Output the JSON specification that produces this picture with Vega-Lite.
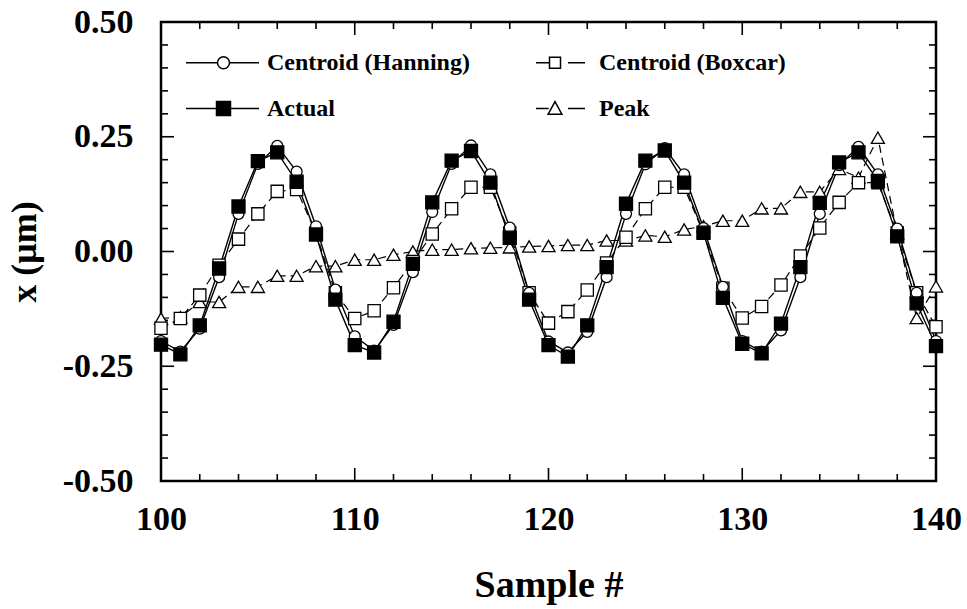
{
  "$schema": "https://vega.github.io/schema/vega-lite/v6.json",
  "width": 775,
  "height": 459,
  "autosize": {"type": "none"},
  "padding": {"left": 161, "top": 22, "right": 31, "bottom": 128},
  "background": "white",
  "config": {
    "view": {"stroke": "black", "strokeWidth": 2.5},
    "axis": {
      "domain": false, "ticks": false, "tickSize": 0, "grid": false,
      "labelFont": "Liberation Serif", "labelFontWeight": "bold", "labelFontSize": 34, "labelColor": "black",
      "titleFont": "Liberation Serif", "titleFontWeight": "bold", "titleColor": "black",
      "labelFlush": false, "labelOverlap": false
    }
  },
  "datasets": {
    "series": [
      {"s": 100, "Centroid (Hanning)": -0.195, "Centroid (Boxcar)": -0.167, "Actual": -0.203, "Peak": -0.146},
      {"s": 101, "Centroid (Hanning)": -0.218, "Centroid (Boxcar)": -0.146, "Actual": -0.224, "Peak": -0.143},
      {"s": 102, "Centroid (Hanning)": -0.168, "Centroid (Boxcar)": -0.095, "Actual": -0.161, "Peak": -0.110},
      {"s": 103, "Centroid (Hanning)": -0.056, "Centroid (Boxcar)": -0.030, "Actual": -0.037, "Peak": -0.110},
      {"s": 104, "Centroid (Hanning)": 0.082, "Centroid (Boxcar)": 0.027, "Actual": 0.098, "Peak": -0.077},
      {"s": 105, "Centroid (Hanning)": 0.191, "Centroid (Boxcar)": 0.082, "Actual": 0.197, "Peak": -0.077},
      {"s": 106, "Centroid (Hanning)": 0.230, "Centroid (Boxcar)": 0.131, "Actual": 0.216, "Peak": -0.053},
      {"s": 107, "Centroid (Hanning)": 0.174, "Centroid (Boxcar)": 0.135, "Actual": 0.152, "Peak": -0.053},
      {"s": 108, "Centroid (Hanning)": 0.055, "Centroid (Boxcar)": 0.040, "Actual": 0.037, "Peak": -0.032},
      {"s": 109, "Centroid (Hanning)": -0.083, "Centroid (Boxcar)": -0.090, "Actual": -0.105, "Peak": -0.032},
      {"s": 110, "Centroid (Hanning)": -0.185, "Centroid (Boxcar)": -0.146, "Actual": -0.204, "Peak": -0.018},
      {"s": 111, "Centroid (Hanning)": -0.216, "Centroid (Boxcar)": -0.129, "Actual": -0.220, "Peak": -0.018},
      {"s": 112, "Centroid (Hanning)": -0.160, "Centroid (Boxcar)": -0.079, "Actual": -0.153, "Peak": -0.007},
      {"s": 113, "Centroid (Hanning)": -0.045, "Centroid (Boxcar)": -0.022, "Actual": -0.027, "Peak": 0.000},
      {"s": 114, "Centroid (Hanning)": 0.086, "Centroid (Boxcar)": 0.038, "Actual": 0.107, "Peak": 0.004},
      {"s": 115, "Centroid (Hanning)": 0.191, "Centroid (Boxcar)": 0.093, "Actual": 0.198, "Peak": 0.004},
      {"s": 116, "Centroid (Hanning)": 0.231, "Centroid (Boxcar)": 0.140, "Actual": 0.219, "Peak": 0.007},
      {"s": 117, "Centroid (Hanning)": 0.168, "Centroid (Boxcar)": 0.140, "Actual": 0.150, "Peak": 0.008},
      {"s": 118, "Centroid (Hanning)": 0.052, "Centroid (Boxcar)": 0.040, "Actual": 0.030, "Peak": 0.009},
      {"s": 119, "Centroid (Hanning)": -0.090, "Centroid (Boxcar)": -0.090, "Actual": -0.105, "Peak": 0.011},
      {"s": 120, "Centroid (Hanning)": -0.196, "Centroid (Boxcar)": -0.156, "Actual": -0.204, "Peak": 0.012},
      {"s": 121, "Centroid (Hanning)": -0.220, "Centroid (Boxcar)": -0.131, "Actual": -0.229, "Peak": 0.014},
      {"s": 122, "Centroid (Hanning)": -0.175, "Centroid (Boxcar)": -0.084, "Actual": -0.161, "Peak": 0.014},
      {"s": 123, "Centroid (Hanning)": -0.056, "Centroid (Boxcar)": -0.025, "Actual": -0.034, "Peak": 0.024},
      {"s": 124, "Centroid (Hanning)": 0.082, "Centroid (Boxcar)": 0.031, "Actual": 0.104, "Peak": 0.024},
      {"s": 125, "Centroid (Hanning)": 0.190, "Centroid (Boxcar)": 0.093, "Actual": 0.198, "Peak": 0.035},
      {"s": 126, "Centroid (Hanning)": 0.225, "Centroid (Boxcar)": 0.140, "Actual": 0.220, "Peak": 0.032},
      {"s": 127, "Centroid (Hanning)": 0.168, "Centroid (Boxcar)": 0.140, "Actual": 0.150, "Peak": 0.048},
      {"s": 128, "Centroid (Hanning)": 0.051, "Centroid (Boxcar)": 0.040, "Actual": 0.041, "Peak": 0.055},
      {"s": 129, "Centroid (Hanning)": -0.077, "Centroid (Boxcar)": -0.080, "Actual": -0.101, "Peak": 0.067},
      {"s": 130, "Centroid (Hanning)": -0.195, "Centroid (Boxcar)": -0.145, "Actual": -0.201, "Peak": 0.067},
      {"s": 131, "Centroid (Hanning)": -0.218, "Centroid (Boxcar)": -0.120, "Actual": -0.222, "Peak": 0.094},
      {"s": 132, "Centroid (Hanning)": -0.172, "Centroid (Boxcar)": -0.073, "Actual": -0.157, "Peak": 0.094},
      {"s": 133, "Centroid (Hanning)": -0.056, "Centroid (Boxcar)": -0.010, "Actual": -0.034, "Peak": 0.130},
      {"s": 134, "Centroid (Hanning)": 0.082, "Centroid (Boxcar)": 0.051, "Actual": 0.106, "Peak": 0.130},
      {"s": 135, "Centroid (Hanning)": 0.188, "Centroid (Boxcar)": 0.107, "Actual": 0.194, "Peak": 0.180},
      {"s": 136, "Centroid (Hanning)": 0.228, "Centroid (Boxcar)": 0.150, "Actual": 0.216, "Peak": 0.161},
      {"s": 137, "Centroid (Hanning)": 0.168, "Centroid (Boxcar)": 0.150, "Actual": 0.154, "Peak": 0.248},
      {"s": 138, "Centroid (Hanning)": 0.050, "Centroid (Boxcar)": 0.040, "Actual": 0.033, "Peak": 0.040},
      {"s": 139, "Centroid (Hanning)": -0.090, "Centroid (Boxcar)": -0.090, "Actual": -0.113, "Peak": -0.145},
      {"s": 140, "Centroid (Hanning)": -0.195, "Centroid (Boxcar)": -0.164, "Actual": -0.206, "Peak": -0.076}
    ],
    "xticks": [
      {"t": 100, "e": -0.5, "k": "major"}, {"t": 100, "e": 0.5, "k": "major"},
      {"t": 102, "e": -0.5, "k": "minor"}, {"t": 102, "e": 0.5, "k": "minor"},
      {"t": 104, "e": -0.5, "k": "minor"}, {"t": 104, "e": 0.5, "k": "minor"},
      {"t": 106, "e": -0.5, "k": "minor"}, {"t": 106, "e": 0.5, "k": "minor"},
      {"t": 108, "e": -0.5, "k": "minor"}, {"t": 108, "e": 0.5, "k": "minor"},
      {"t": 110, "e": -0.5, "k": "major"}, {"t": 110, "e": 0.5, "k": "major"},
      {"t": 112, "e": -0.5, "k": "minor"}, {"t": 112, "e": 0.5, "k": "minor"},
      {"t": 114, "e": -0.5, "k": "minor"}, {"t": 114, "e": 0.5, "k": "minor"},
      {"t": 116, "e": -0.5, "k": "minor"}, {"t": 116, "e": 0.5, "k": "minor"},
      {"t": 118, "e": -0.5, "k": "minor"}, {"t": 118, "e": 0.5, "k": "minor"},
      {"t": 120, "e": -0.5, "k": "major"}, {"t": 120, "e": 0.5, "k": "major"},
      {"t": 122, "e": -0.5, "k": "minor"}, {"t": 122, "e": 0.5, "k": "minor"},
      {"t": 124, "e": -0.5, "k": "minor"}, {"t": 124, "e": 0.5, "k": "minor"},
      {"t": 126, "e": -0.5, "k": "minor"}, {"t": 126, "e": 0.5, "k": "minor"},
      {"t": 128, "e": -0.5, "k": "minor"}, {"t": 128, "e": 0.5, "k": "minor"},
      {"t": 130, "e": -0.5, "k": "major"}, {"t": 130, "e": 0.5, "k": "major"},
      {"t": 132, "e": -0.5, "k": "minor"}, {"t": 132, "e": 0.5, "k": "minor"},
      {"t": 134, "e": -0.5, "k": "minor"}, {"t": 134, "e": 0.5, "k": "minor"},
      {"t": 136, "e": -0.5, "k": "minor"}, {"t": 136, "e": 0.5, "k": "minor"},
      {"t": 138, "e": -0.5, "k": "minor"}, {"t": 138, "e": 0.5, "k": "minor"},
      {"t": 140, "e": -0.5, "k": "major"}, {"t": 140, "e": 0.5, "k": "major"}
    ],
    "yticks": [
      {"t": -0.5, "e": 100, "k": "major"}, {"t": -0.5, "e": 140, "k": "major"},
      {"t": -0.45, "e": 100, "k": "minor"}, {"t": -0.45, "e": 140, "k": "minor"},
      {"t": -0.4, "e": 100, "k": "minor"}, {"t": -0.4, "e": 140, "k": "minor"},
      {"t": -0.35, "e": 100, "k": "minor"}, {"t": -0.35, "e": 140, "k": "minor"},
      {"t": -0.3, "e": 100, "k": "minor"}, {"t": -0.3, "e": 140, "k": "minor"},
      {"t": -0.25, "e": 100, "k": "major"}, {"t": -0.25, "e": 140, "k": "major"},
      {"t": -0.2, "e": 100, "k": "minor"}, {"t": -0.2, "e": 140, "k": "minor"},
      {"t": -0.15, "e": 100, "k": "minor"}, {"t": -0.15, "e": 140, "k": "minor"},
      {"t": -0.1, "e": 100, "k": "minor"}, {"t": -0.1, "e": 140, "k": "minor"},
      {"t": -0.05, "e": 100, "k": "minor"}, {"t": -0.05, "e": 140, "k": "minor"},
      {"t": 0, "e": 100, "k": "major"}, {"t": 0, "e": 140, "k": "major"},
      {"t": 0.05, "e": 100, "k": "minor"}, {"t": 0.05, "e": 140, "k": "minor"},
      {"t": 0.1, "e": 100, "k": "minor"}, {"t": 0.1, "e": 140, "k": "minor"},
      {"t": 0.15, "e": 100, "k": "minor"}, {"t": 0.15, "e": 140, "k": "minor"},
      {"t": 0.2, "e": 100, "k": "minor"}, {"t": 0.2, "e": 140, "k": "minor"},
      {"t": 0.25, "e": 100, "k": "major"}, {"t": 0.25, "e": 140, "k": "major"},
      {"t": 0.3, "e": 100, "k": "minor"}, {"t": 0.3, "e": 140, "k": "minor"},
      {"t": 0.35, "e": 100, "k": "minor"}, {"t": 0.35, "e": 140, "k": "minor"},
      {"t": 0.4, "e": 100, "k": "minor"}, {"t": 0.4, "e": 140, "k": "minor"},
      {"t": 0.45, "e": 100, "k": "minor"}, {"t": 0.45, "e": 140, "k": "minor"},
      {"t": 0.5, "e": 100, "k": "major"}, {"t": 0.5, "e": 140, "k": "major"}
    ]
  },
  "layer": [
    {
      "data": {"name": "xticks"},
      "mark": {"type": "tick", "orient": "vertical", "color": "black", "thickness": 1.6, "clip": true, "opacity": 1},
      "encoding": {
        "x": {"field": "t", "type": "quantitative", "axis": null},
        "y": {"field": "e", "type": "quantitative", "axis": null},
        "size": {"field": "k", "type": "nominal", "scale": {"domain": ["major", "minor"], "range": [26, 14]}, "legend": null}
      }
    },
    {
      "data": {"name": "yticks"},
      "mark": {"type": "tick", "orient": "horizontal", "color": "black", "thickness": 1.6, "clip": true, "opacity": 1},
      "encoding": {
        "x": {"field": "e", "type": "quantitative", "axis": null},
        "y": {"field": "t", "type": "quantitative", "axis": null},
        "size": {"field": "k", "type": "nominal", "scale": {"domain": ["major", "minor"], "range": [26, 14]}, "legend": null}
      }
    },
    {
      "data": {"name": "series"},
      "transform": [{"fold": ["Centroid (Hanning)", "Centroid (Boxcar)", "Actual", "Peak"], "as": ["series", "v"]}],
      "mark": {"type": "point", "filled": true, "stroke": "black", "strokeWidth": 1.5, "size": 0, "opacity": 1},
      "encoding": {
        "x": {"field": "s", "type": "quantitative", "axis": null},
        "y": {"field": "v", "type": "quantitative", "axis": null},
        "shape": {"field": "series", "type": "nominal",
          "scale": {"domain": ["Centroid (Hanning)", "Actual", "Centroid (Boxcar)", "Peak"],
            "range": [
              "M-1,0L1.52,0M2.48,0L4.84,0M2.48,0A0.48,0.48,0,1,1,1.52,0A0.48,0.48,0,1,1,2.48,0",
              "M-1,0L1.44,0M2.56,0L4.84,0M1.44,-0.56L2.56,-0.56L2.56,0.56L1.44,0.56Z",
              "M-1,0M0.44,0L1.52,0M3,0L4.36,0M1.52,-0.44L2.4,-0.44L2.4,0.44L1.52,0.44Z",
              "M-1,0M0.44,0L1.45,0M3,0L4.36,0M1.96,-0.55L2.51,0.45L1.41,0.45Z"
            ]},
          "legend": {
            "title": null, "orient": "none", "legendX": 24, "legendY": 27, "columns": 2, "columnPadding": 45, "rowPadding": 20,
            "symbolSize": 625, "symbolStrokeWidth": 1.5, "symbolOpacity": 1,
            "labelOffset": 55, "labelFont": "Liberation Serif", "labelFontWeight": "bold", "labelFontSize": 24,
            "labelColor": "black", "labelLimit": 0, "padding": 0, "offset": 0
          }},
        "fill": {"field": "series", "type": "nominal",
          "scale": {"domain": ["Centroid (Hanning)", "Actual", "Centroid (Boxcar)", "Peak"], "range": ["white", "black", "white", "white"]}},
        "stroke": {"field": "series", "type": "nominal",
          "scale": {"domain": ["Centroid (Hanning)", "Actual", "Centroid (Boxcar)", "Peak"], "range": ["black", "black", "black", "black"]}}
      }
    },
    {
      "data": {"name": "series"},
      "transform": [
        {"fold": ["Centroid (Hanning)", "Centroid (Boxcar)", "Actual", "Peak"], "as": ["series", "v"]},
        {"filter": "datum.series === 'Centroid (Hanning)' || datum.series === 'Actual'"}
      ],
      "mark": {"type": "line", "stroke": "black", "strokeWidth": 1.4},
      "encoding": {
        "x": {"field": "s", "type": "quantitative", "scale": {"domain": [100, 140], "nice": false, "zero": false},
          "axis": {"orient": "bottom", "values": [100, 110, 120, 130, 140], "labelPadding": 21,
            "title": "Sample #", "titleFontSize": 38, "titlePadding": 30}},
        "y": {"field": "v", "type": "quantitative", "scale": {"domain": [-0.5, 0.5], "nice": false, "zero": false},
          "axis": {"orient": "left", "values": [-0.5, -0.25, 0, 0.25, 0.5], "labelPadding": 28,
            "labelExpr": "datum.value < 0 ? '-' + format(-datum.value, '.2f') : format(datum.value, '.2f')",
            "title": "x (μm)", "titleFontSize": 36, "titlePadding": 19}},
        "detail": {"field": "series"}
      }
    },
    {
      "data": {"name": "series"},
      "transform": [
        {"fold": ["Centroid (Hanning)", "Centroid (Boxcar)", "Actual", "Peak"], "as": ["series", "v"]},
        {"filter": "datum.series === 'Centroid (Boxcar)' || datum.series === 'Peak'"}
      ],
      "mark": {"type": "line", "stroke": "black", "strokeWidth": 1.2, "strokeDash": [8, 5]},
      "encoding": {
        "x": {"field": "s", "type": "quantitative", "axis": null},
        "y": {"field": "v", "type": "quantitative", "axis": null},
        "detail": {"field": "series"}
      }
    },
    {
      "data": {"name": "series"},
      "transform": [{"fold": ["Peak"], "as": ["series", "v"]}],
      "mark": {"type": "point", "shape": "triangle-up", "stroke": "black", "fill": "white", "filled": true, "strokeWidth": 1.3, "size": 170, "opacity": 1},
      "encoding": {
        "x": {"field": "s", "type": "quantitative", "axis": null},
        "y": {"field": "v", "type": "quantitative", "axis": null}
      }
    },
    {
      "data": {"name": "series"},
      "transform": [{"fold": ["Centroid (Boxcar)"], "as": ["series", "v"]}],
      "mark": {"type": "point", "shape": "square", "stroke": "black", "fill": "white", "filled": true, "strokeWidth": 1.3, "size": 150, "opacity": 1},
      "encoding": {
        "x": {"field": "s", "type": "quantitative", "axis": null},
        "y": {"field": "v", "type": "quantitative", "axis": null}
      }
    },
    {
      "data": {"name": "series"},
      "transform": [{"fold": ["Centroid (Hanning)"], "as": ["series", "v"]}],
      "mark": {"type": "point", "shape": "circle", "stroke": "black", "fill": "white", "filled": true, "strokeWidth": 1.3, "size": 120, "opacity": 1},
      "encoding": {
        "x": {"field": "s", "type": "quantitative", "axis": null},
        "y": {"field": "v", "type": "quantitative", "axis": null}
      }
    },
    {
      "data": {"name": "series"},
      "transform": [{"fold": ["Actual"], "as": ["series", "v"]}],
      "mark": {"type": "point", "shape": "square", "stroke": "black", "fill": "black", "filled": true, "strokeWidth": 1.3, "size": 170, "opacity": 1},
      "encoding": {
        "x": {"field": "s", "type": "quantitative", "axis": null},
        "y": {"field": "v", "type": "quantitative", "axis": null}
      }
    }
  ],
  "resolve": {"axis": {"x": "independent", "y": "independent"}}
}
